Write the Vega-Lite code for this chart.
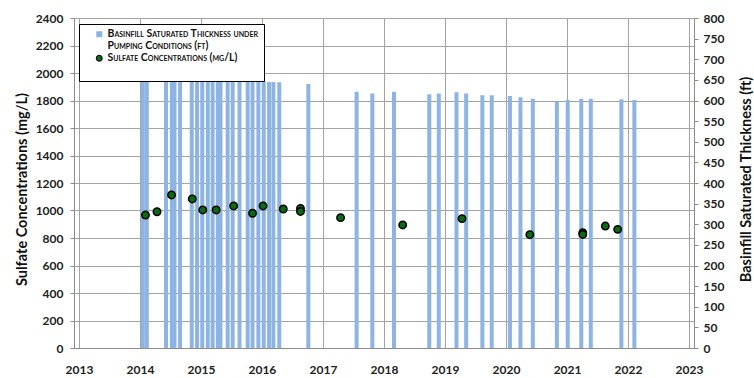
{
  "$schema": "https://vega.github.io/schema/vega-lite/v6.json",
  "width": 620,
  "height": 330,
  "autosize": {"type": "none"},
  "padding": {"left": 74, "top": 18, "right": 60, "bottom": 30},
  "background": "white",
  "config": {
    "view": {"stroke": null},
    "font": "Lato",
    "axis": {
      "labelFont": "Lato", "labelFontWeight": "bold", "labelFontSize": 12, "labelColor": "#222222",
      "titleFont": "Lato", "titleFontWeight": "bold", "titleFontSize": 14.5, "titleColor": "#111111",
      "domainColor": "#8c8c8c", "tickColor": "#8c8c8c", "gridColor": "#a3a3a3", "gridWidth": 1, "gridOpacity": 1
    }
  },
  "datasets": {
    "thickness": [
      {"date": "2014-01-18", "thickness_ft": 660},
      {"date": "2014-02-11", "thickness_ft": 660},
      {"date": "2014-06-06", "thickness_ft": 660},
      {"date": "2014-07-11", "thickness_ft": 660},
      {"date": "2014-07-27", "thickness_ft": 660},
      {"date": "2014-08-29", "thickness_ft": 660},
      {"date": "2014-11-07", "thickness_ft": 660},
      {"date": "2014-12-09", "thickness_ft": 660},
      {"date": "2015-01-09", "thickness_ft": 660},
      {"date": "2015-02-11", "thickness_ft": 660},
      {"date": "2015-03-12", "thickness_ft": 660},
      {"date": "2015-04-12", "thickness_ft": 650},
      {"date": "2015-04-28", "thickness_ft": 650},
      {"date": "2015-06-10", "thickness_ft": 650},
      {"date": "2015-07-10", "thickness_ft": 650},
      {"date": "2015-08-20", "thickness_ft": 647},
      {"date": "2015-10-08", "thickness_ft": 645},
      {"date": "2015-11-06", "thickness_ft": 645},
      {"date": "2015-12-11", "thickness_ft": 647},
      {"date": "2016-01-12", "thickness_ft": 647},
      {"date": "2016-02-13", "thickness_ft": 645},
      {"date": "2016-03-10", "thickness_ft": 645},
      {"date": "2016-04-14", "thickness_ft": 644},
      {"date": "2016-10-05", "thickness_ft": 640},
      {"date": "2017-07-21", "thickness_ft": 621},
      {"date": "2017-10-23", "thickness_ft": 617},
      {"date": "2018-03-02", "thickness_ft": 621},
      {"date": "2018-09-29", "thickness_ft": 615},
      {"date": "2018-11-25", "thickness_ft": 617},
      {"date": "2019-03-11", "thickness_ft": 620},
      {"date": "2019-05-08", "thickness_ft": 617},
      {"date": "2019-08-13", "thickness_ft": 613},
      {"date": "2019-10-08", "thickness_ft": 613},
      {"date": "2020-01-25", "thickness_ft": 611},
      {"date": "2020-03-28", "thickness_ft": 608},
      {"date": "2020-06-10", "thickness_ft": 604},
      {"date": "2020-11-01", "thickness_ft": 597},
      {"date": "2021-01-05", "thickness_ft": 601},
      {"date": "2021-03-27", "thickness_ft": 604},
      {"date": "2021-05-23", "thickness_ft": 604},
      {"date": "2021-11-22", "thickness_ft": 603},
      {"date": "2022-02-08", "thickness_ft": 601}
    ],
    "sulfate": [
      {"date": "2014-02-03", "sulfate_mgL": 967},
      {"date": "2014-04-13", "sulfate_mgL": 991},
      {"date": "2014-07-09", "sulfate_mgL": 1113},
      {"date": "2014-11-10", "sulfate_mgL": 1084},
      {"date": "2015-01-12", "sulfate_mgL": 1004},
      {"date": "2015-04-02", "sulfate_mgL": 1004},
      {"date": "2015-07-16", "sulfate_mgL": 1033},
      {"date": "2015-11-06", "sulfate_mgL": 980},
      {"date": "2016-01-08", "sulfate_mgL": 1033},
      {"date": "2016-05-08", "sulfate_mgL": 1011},
      {"date": "2016-08-19", "sulfate_mgL": 1015},
      {"date": "2016-08-19", "sulfate_mgL": 993},
      {"date": "2017-04-16", "sulfate_mgL": 948},
      {"date": "2018-04-23", "sulfate_mgL": 895},
      {"date": "2019-04-13", "sulfate_mgL": 941},
      {"date": "2020-05-23", "sulfate_mgL": 824},
      {"date": "2021-04-05", "sulfate_mgL": 838},
      {"date": "2021-04-05", "sulfate_mgL": 826},
      {"date": "2021-08-18", "sulfate_mgL": 887},
      {"date": "2021-10-31", "sulfate_mgL": 863}
    ]
  },
  "layer": [
    {
      "data": {"name": "thickness"},
      "mark": {"type": "bar", "size": 4},
      "encoding": {
        "x": {
          "field": "date", "type": "temporal",
          "scale": {"domain": [{"year": 2013, "month": 1, "date": 1}, {"year": 2023, "month": 1, "date": 1}]},
          "axis": {"title": null, "format": "%Y", "tickCount": {"interval": "year", "step": 1}, "grid": true, "ticks": false, "labelPadding": 16, "labelFlush": false}
        },
        "y": {
          "field": "thickness_ft", "type": "quantitative",
          "scale": {"domain": [0, 800], "nice": false},
          "axis": {
            "orient": "right", "title": "Basinfill Saturated Thickness (ft)", "format": "d",
            "values": [0, 50, 100, 150, 200, 250, 300, 350, 400, 450, 500, 550, 600, 650, 700, 750, 800],
            "grid": false, "tickSize": 4, "labelPadding": 5,
            "titleAngle": 270, "titleX": 52, "titleY": 161, "titleBaseline": "middle", "titleAlign": "center"
          }
        },
        "color": {
          "datum": "Basinfill Saturated Thickness under", "type": "nominal",
          "scale": {
            "domain": ["Basinfill Saturated Thickness under", "Pumping Conditions (ft)", "Sulfate Concentrations (mg/L)"],
            "range": ["#8db4e2", "#ffffff", "#0b6a16"]
          },
          "legend": {
            "orient": "none", "legendX": 5, "legendY": 6,
            "title": "\u00a0", "titleOrient": "bottom", "titleFontSize": 9, "titlePadding": 3,
            "fillColor": "white", "strokeColor": "black", "padding": 5,
            "labelFont": "Lato", "labelFontSize": 10.5, "labelFontWeight": "bold", "labelColor": "#111111",
            "labelLimit": 400,
            "rowPadding": 1, "symbolSize": 36, "labelOffset": 3, "symbolOffset": 10,
            "encode": {
              "labels": {"update": {
                "fontVariant": {"value": "small-caps"},
                "fontSize": {"value": 10.5}
              }},
              "symbols": {"update": {
                "shape": {"signal": "datum.value === 'Sulfate Concentrations (mg/L)' ? 'circle' : 'square'"},
                "stroke": {"signal": "datum.value === 'Sulfate Concentrations (mg/L)' ? 'black' : 'transparent'"},
                "strokeWidth": {"value": 1},
                "opacity": {"signal": "datum.value === 'Pumping Conditions (ft)' ? 0 : 1"}
              }}
            }
          }
        }
      }
    },
    {
      "data": {"name": "sulfate"},
      "mark": {"type": "point", "filled": true, "stroke": "black", "strokeWidth": 1.5, "size": 55, "opacity": 1},
      "encoding": {
        "x": {"field": "date", "type": "temporal"},
        "y": {
          "field": "sulfate_mgL", "type": "quantitative",
          "scale": {"domain": [0, 2400], "nice": false},
          "axis": {
            "orient": "left", "title": "Sulfate Concentrations (mg/L)", "format": "d",
            "values": [0, 200, 400, 600, 800, 1000, 1200, 1400, 1600, 1800, 2000, 2200, 2400],
            "grid": true, "tickSize": 4, "labelPadding": 7,
            "titleX": -52, "titleY": 171, "titleBaseline": "middle", "titleAlign": "center"
          }
        },
        "color": {"datum": "Sulfate Concentrations (mg/L)", "type": "nominal"}
      }
    }
  ],
  "resolve": {"scale": {"y": "independent"}}
}
